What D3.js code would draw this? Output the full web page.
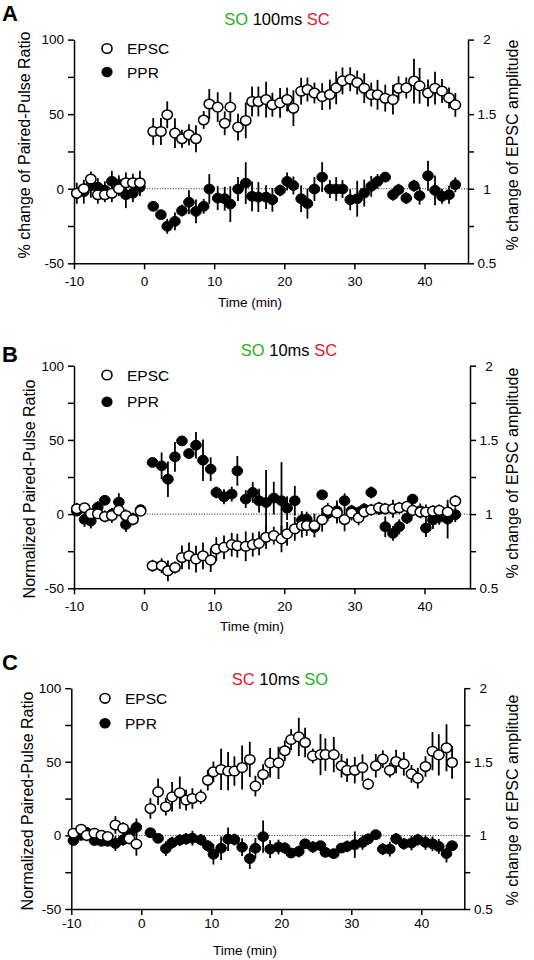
<!DOCTYPE html>
<html><head><meta charset="utf-8">
<script src="https://cdn.jsdelivr.net/npm/d3@7"></script>
<style>
body{margin:0;background:#fff}
text{font-family:"Liberation Sans",Arial,Helvetica,sans-serif}
</style>
</head><body>
<svg id="chart" width="534" height="960"></svg>
<script>
// ---------- DATA ----------
const xTicks = [-10, 0, 10, 20, 30, 40];
const leftTicks = [-50, -25, 0, 25, 50, 75, 100];
const leftLabels = [-50, 0, 50, 100];
const rightTicks = [0.5, 0.75, 1, 1.25, 1.5, 1.75, 2];
const rightLabels = [0.5, 1, 1.5, 2];
const seriesNames = ["EPSC", "PPR"];

// Panel A: SO 100ms SC
const timesA = [-9.6,-8.6,-7.6,-6.6,-5.6,-4.6,-3.6,-2.6,-1.6,-0.6,
  1.3,2.4,3.3,4.4,5.4,6.4,7.4,8.5,9.3,10.5,11.5,12.3,13.4,14.5,15.4,16.3,17.4,18.3,19.4,20.4,
  21.3,22.4,23.3,24.3,25.4,26.5,27.4,28.3,29.4,30.4,31.4,32.4,33.3,34.4,35.5,36.3,37.4,38.5,39.3,40.5,
  41.5,42.5,43.5,44.4];
const epscA = [-3,0,6.5,-4,-4,-3,0,4,4,4,
  38.4,38.4,49.6,37.3,33.5,36.2,33.5,46.1,56.8,54.7,43.9,54.7,41.3,45.8,58.5,58.5,59.8,56.3,57.6,59.8,
  54,65.4,66.5,64.2,61.8,63.2,67.6,72.3,73.4,71.2,67.4,63.2,63,60.7,59.8,67.4,67.6,72.2,69,64.2,
  67.4,65.5,60.9,56.2];
const epscErrA = [4,4,5,6,5,6,5,7,6,8,
  9,9,9,10,6,7,9,6,10,10,8,10,9,12,10,10,12,8,10,8,
  12,9,8,7,9,10,11,9,8,8,10,8,10,9,10,8,7,15,12,9,
  11,8,7,8];
const pprA = [-3,-2,2,1,-1,5,3,-4,-3,1,
  -11.8,-17.4,-25.2,-21.9,-14.7,-9.1,-15.2,-11.8,-0.2,-6.3,-6.7,-10.3,-0.2,3.8,-5.1,-5.6,-5.6,-7.4,-1.1,4.9,
  2.2,-6.7,-10,-0.2,7.8,-0.2,-0.2,-0.2,-7.4,-6.7,-2.9,1.6,4.9,7.8,-4,-0.7,-6.3,2,-4.7,8.7,
  -1.1,-5.1,-4,2.7];
const pprErrA = [7,8,8,6,6,7,6,9,6,6,
  3,3,5,6,4,8,8,5,10,8,8,12,8,14,10,10,8,8,4,6,
  6,9,10,8,10,6,8,6,7,12,9,7,5,3,4,4,4,4,6,10,
  10,5,6,5];

// Panel B: SO 10ms SC
const timesB = [-9.6,-8.5,-7.6,-6.6,-5.6,-4.6,-3.6,-2.6,-1.6,-0.5,
  1.2,2.5,3.4,4.4,5.4,6.4,7.4,8.4,9.5,10.3,11.4,12.5,13.3,14.5,15.5,16.4,17.4,18.5,19.6,20.4,
  21.5,22.5,23.2,24.3,25.4,26.2,27.5,28.6,29.6,30.6,31.4,32.4,33.5,34.4,35.5,36.4,37.5,38.3,39.4,40.2,
  41.2,42.1,43.3,44.4];
const epscB = [3.6,4.3,0.2,0.2,-1.6,-0.9,2.5,-0.9,-3.6,2,
  -34.8,-34.8,-38.2,-36,-29.2,-28.1,-30.3,-28.1,-31,-23.5,-22.4,-20.6,-21.3,-21.7,-20.6,-19.7,-15.6,-14.5,-16.7,-13.3,
  -9.9,-7.7,-7.7,-7.7,-3.8,2.5,0.7,-3.6,0.7,-2.5,1.4,2.9,4.3,3.6,3.6,4.3,5.2,2.5,1.4,1.4,
  2,2.5,1.4,8.8];
const epscErrB = [4,3,3,3,4,5,4,4,4,3,
  4,5,7,4,8,9,9,9,8,8,8,8,8,10,8,8,8,6,9,8,
  8,8,7,8,8,5,7,8,5,5,4,4,4,4,6,4,3,4,4,5,
  4,4,5,4];
const pprB = [2,-3.6,-4.7,4.7,9.3,0,8.1,-7,-3,3,
  34.8,32.5,23.5,38.6,49.3,40.8,46.4,36.3,30.3,14.6,11.7,13.5,29.1,10.1,14.6,9,7.8,10.8,9,4,
  9,-4,-3.4,-9,13,0.4,2.2,9,2.2,1.1,3.4,14.6,3.4,-8.5,-13,-8.5,-2.7,10.1,2.2,-9.4,
  -4,-2.2,-3.4,-0.4];
const pprErrB = [3,5,5,4,3,4,6,5,4,3,
  3,9,12,10,2,3,9,14,8,4,5,5,10,6,7,8,22,11,26,8,
  10,6,5,4,3,5,7,5,4,4,4,4,4,7,5,5,4,3,5,6,
  6,5,13,5];

// Panel C: SC 10ms SO
const timesC = [-9.7,-8.6,-7.8,-6.7,-5.7,-4.8,-3.7,-2.6,-1.7,-0.7,
  1.3,2.4,3.5,4.4,5.5,6.4,7.3,8.5,9.5,10.3,11.4,12.4,13.3,14.4,15.5,16.3,17.4,18.4,19.6,20.5,
  21.4,22.5,23.4,24.5,25.6,26.3,27.5,28.6,29.4,30.5,31.6,32.4,33.5,34.5,35.5,36.4,37.5,38.6,39.5,40.6,
  41.6,42.5,43.6,44.4];
const epscC = [1.5,4.2,0,1.5,0.1,-0.8,7.1,4.9,-2.2,-5.8,
  18.3,29.6,19.5,26.2,29,24,25.1,26.2,37.5,43.2,44.8,43.7,43.7,46.1,51.6,33.5,41.4,49.3,49.3,57.5,
  65.1,66.9,63.1,54,54.9,54.9,54.9,47.3,44.3,44.3,46.1,34.8,47.3,51.8,44.3,50.2,48.6,41.8,38.9,46.8,
  57.2,54.7,59.5,49.5];
const epscErrC = [3,3,4,3,3,3,6,4,4,8,
  7,9,6,10,11,7,7,5,7,7,14,13,10,15,12,7,7,10,11,7,
  7,13,10,5,14,11,12,8,8,9,9,4,8,6,5,8,8,6,7,7,
  13,14,16,11];
const pprC = [-3.5,0,2,-3.5,-4,-4,-5.5,-3,1.5,5.5,
  1.8,-2,-9,-5,-3.2,-2.4,-1.9,-3,-7.1,-12.8,-8.7,-2.6,-2.8,-8,-15.8,-8.7,-0.8,-9.3,-7.9,-8.6,
  -12,-10.9,-5.7,-7.9,-7,-11.5,-12.4,-8.6,-7.5,-6.3,-4.8,-2.5,0.5,-9.3,-9.3,-2.3,-5.7,-5.2,-2.9,-4.8,
  -5.7,-7.5,-12.4,-7];
const pprErrC = [3,3,3,3,3,3,5,4,3,6,
  2,3,5,4,4,4,5,4,4,7,8,8,4,6,7,7,11,6,5,4,
  3,4,3,4,3,3,3,3,4,9,5,4,3,4,5,4,4,5,4,5,
  5,5,6,3];

// ---------- DRAWING ----------
const GREEN = "#1fb21f", RED = "#e2192c";
const svg = d3.select("#chart");

const panels = [
  {letter:"A", letterY:21, title:[["SO",GREEN],[" 100ms ","#000"],["SC",RED]], titleX:277, titleY:25,
   x0:74, x1:468, pxPerMin:7.01, yTop:39.6, yBot:263.3, xPad:7.5, timeX:250, timeY:307,
   legX:107, legY1:48.5, legY2:72,
   leftTitle:"% change of Paired-Pulse Ratio", leftTX:24, leftTY:145, rightTY:145,
   t:timesA, epsc:epscA, epscErr:epscErrA, ppr:pprA, pprErr:pprErrA},
  {letter:"B", letterY:362, title:[["SO",GREEN],[" 10ms ","#000"],["SC",RED]], titleX:289, titleY:356,
   x0:74, x1:470, pxPerMin:7.01, yTop:365.7, yBot:588.3, xPad:7.5, timeX:252, timeY:631,
   legX:107, legY1:375, legY2:401.7,
   leftTitle:"Normalized Paired-Pulse Ratio", leftTX:29, leftTY:489, rightTY:473,
   t:timesB, epsc:epscB, epscErr:epscErrB, ppr:pprB, pprErr:pprErrB},
  {letter:"C", letterY:670, title:[["SC",RED],[" 10ms ","#000"],["SO",GREEN]], titleX:280, titleY:685,
   x0:71.3, x1:464.3, pxPerMin:7.0, yTop:688.2, yBot:909, xPad:3.5, timeX:245, timeY:955,
   legX:105, legY1:698.3, legY2:723.3,
   leftTitle:"Normalized Paired-Pulse Ratio", leftTX:27.5, leftTY:801, rightTY:800,
   t:timesC, epsc:epscC, epscErr:epscErrC, ppr:pprC, pprErr:pprErrC}
];

function drawPanel(p){
  const g = svg.append("g");
  const xMax = -10 + (p.x1 - p.x0) / p.pxPerMin;
  const x = d3.scaleLinear().domain([-10, xMax]).range([p.x0, p.x1]);
  const y = d3.scaleLinear().domain([-50, 100]).range([p.yBot, p.yTop]);
  const yR = d3.scaleLinear().domain([0.5, 2]).range([p.yBot, p.yTop]);

  // letter and title
  g.append("text").attr("x", 2).attr("y", p.letterY).attr("font-size", 22).attr("font-weight", "bold").text(p.letter);
  const tt = g.append("text").attr("x", p.titleX).attr("y", p.titleY).attr("font-size", 16.5).attr("text-anchor", "middle");
  p.title.forEach(([s, c]) => tt.append("tspan").attr("fill", c).attr("xml:space","preserve").text(s));

  // zero dotted line
  g.append("line").attr("x1", p.x0).attr("x2", p.x1).attr("y1", y(0)).attr("y2", y(0))
    .attr("stroke", "#222").attr("stroke-width", 1).attr("stroke-dasharray", "1,1.6");

  // axes
  const xAxis = d3.axisBottom(x).tickValues(xTicks).tickSize(6).tickSizeOuter(0).tickPadding(p.xPad)
    .tickFormat(d => String(d));
  const ax = g.append("g").attr("transform", `translate(0,${p.yBot})`).call(xAxis);
  const yAxis = d3.axisLeft(y).tickValues(leftTicks).tickSize(6).tickSizeOuter(0).tickPadding(4)
    .tickFormat(d => leftLabels.includes(d) ? String(d) : "");
  const ay = g.append("g").attr("transform", `translate(${p.x0},0)`).call(yAxis);
  const yAxisR = d3.axisRight(yR).tickValues(rightTicks).tickSize(6).tickSizeOuter(0).tickPadding(13)
    .tickFormat(d => rightLabels.includes(d) ? String(d) : "");
  const ar = g.append("g").attr("transform", `translate(${p.x1},0)`).call(yAxisR);
  ar.selectAll("text").attr("text-anchor", "middle").attr("x", 19);
  [ax, ay, ar].forEach(a => {
    a.selectAll("path.domain").attr("stroke", "#000").attr("stroke-width", 1.5);
    a.selectAll(".tick line").attr("stroke", "#000").attr("stroke-width", 1.5);
    a.selectAll("text").attr("font-size", 13.5).attr("fill", "#000")
      .attr("font-family", '"Liberation Sans",Arial,sans-serif');
  });

  // axis titles
  g.append("text").attr("x", p.timeX).attr("y", p.timeY).attr("text-anchor", "middle").attr("font-size", 13.5).text("Time (min)");
  g.append("text").attr("transform", `translate(${p.leftTX},${p.leftTY}) rotate(-90)`).attr("text-anchor", "middle")
    .attr("dy", "0.35em").attr("font-size", 16).text(p.leftTitle);
  g.append("text").attr("transform", `translate(512,${p.rightTY}) rotate(-90)`).attr("text-anchor", "middle")
    .attr("dy", "0.35em").attr("font-size", 16).text("% change of EPSC amplitude");

  // data
  const mk = (vals, errs) => p.t.map((t, i) => ({t, v: vals[i], e: errs[i]}));
  const dE = mk(p.epsc, p.epscErr), dP = mk(p.ppr, p.pprErr);
  const errG = g.append("g");
  [dP, dE].forEach(d => {
    errG.selectAll(null).data(d).enter().append("line")
      .attr("x1", q => x(q.t)).attr("x2", q => x(q.t))
      .attr("y1", q => y(q.v - q.e)).attr("y2", q => y(q.v + q.e))
      .attr("stroke", "#000").attr("stroke-width", 1.8);
  });
  g.append("g").selectAll("ellipse").data(dP).enter().append("ellipse")
    .attr("cx", q => x(q.t)).attr("cy", q => y(q.v)).attr("rx", 5.3).attr("ry", 4.9)
    .attr("fill", "#000").attr("stroke", "#000").attr("stroke-width", 1);
  g.append("g").selectAll("ellipse").data(dE).enter().append("ellipse")
    .attr("cx", q => x(q.t)).attr("cy", q => y(q.v)).attr("rx", 5.2).attr("ry", 4.8)
    .attr("fill", "#fff").attr("stroke", "#000").attr("stroke-width", 1.5);

  // legend
  const lg = g.append("g");
  lg.append("ellipse").attr("cx", p.legX).attr("cy", p.legY1).attr("rx", 5).attr("ry", 4.8)
    .attr("fill", "#fff").attr("stroke", "#000").attr("stroke-width", 1.6);
  lg.append("ellipse").attr("cx", p.legX).attr("cy", p.legY2).attr("rx", 5.6).attr("ry", 5.3).attr("fill", "#000");
  lg.append("text").attr("x", p.legX + 20).attr("y", p.legY1).attr("dy", "0.36em").attr("font-size", 15.5).text(seriesNames[0]);
  lg.append("text").attr("x", p.legX + 20).attr("y", p.legY2).attr("dy", "0.36em").attr("font-size", 15.5).text(seriesNames[1]);
}

panels.forEach(drawPanel);
</script>
</body></html>
